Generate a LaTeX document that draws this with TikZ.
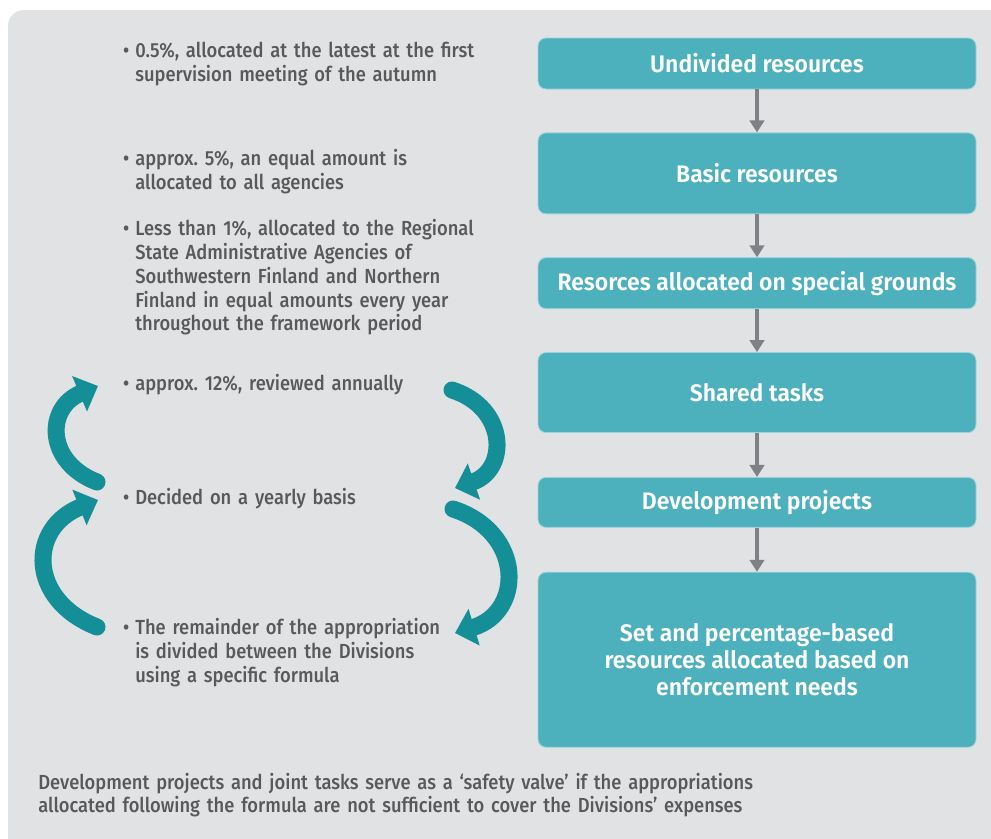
\documentclass[tikz,border=0pt]{standalone}
\usepackage{fontspec}
\setmainfont{Fira Sans Medium}[FakeStretch=0.9]
\newfontfamily\boxfont{Fira Sans SemiBold}[FakeStretch=0.96]
\usetikzlibrary{arrows.meta,positioning}

\definecolor{panelgray}{RGB}{225,226,228}
\definecolor{boxteal}{RGB}{76,176,189}
\definecolor{loopteal}{RGB}{20,143,152}
\definecolor{flowgray}{RGB}{128,129,133}
\definecolor{textgray}{RGB}{88,89,91}

\begin{document}
\frenchspacing
\begin{tikzpicture}[
  resbox/.style={draw=boxteal!55!white,line width=0.6pt,fill=boxteal,rounded corners=0.2cm,
    text=white,font=\boxfont\fontsize{17}{19.2}\selectfont,align=center,minimum width=10.95cm,inner sep=2pt},
  listitem/.style={anchor=base west,text width=11cm,align=left,inner sep=0pt,text=textgray,
    font=\fontsize{14.5}{17.07}\selectfont},
  flow/.style={-{Triangle[width=0.36cm,length=0.3cm]},line width=0.1cm,flowgray},
  swirl/.style={-{Triangle[width=0.93cm,length=0.5cm]},line width=0.425cm,loopteal,line cap=round}]
\useasboundingbox (0,0) rectangle (24.775,-20.95);
\fill[panelgray,rounded corners=0.4cm] (0.2,-0.25) rectangle (25.5,-21.6);

% resource chain on the right
\node[resbox,minimum height=1.275cm] (undiv) at (18.925,-1.5875) {Undivided resources};
\node[resbox,minimum height=2.025cm,below=1.075cm of undiv] (basic) {Basic resources};
\node[resbox,minimum height=1.275cm,below=1.075cm of basic] (special) {Resorces allocated on special grounds};
\node[resbox,minimum height=2.0cm,below=1.075cm of special] (shared) {Shared tasks};
\node[resbox,minimum height=1.25cm,below=1.1cm of shared] (devel) {Development projects};
\node[resbox,minimum height=4.375cm,below=1.1cm of devel] (setres)
 {Set and percentage-based\\ resources allocated based on\\ enforcement needs};
\draw[flow] (undiv)--(basic); \draw[flow] (basic)--(special); \draw[flow] (special)--(shared);
\draw[flow] (shared)--(devel); \draw[flow] (devel)--(setres);

% explanations on the left
\newcommand\bul{\llap{\textbullet\hspace{0.15cm}}}
\node[listitem] (iundiv) at (3.375,-1.433)
 {\bul 0.5\%, allocated at the latest at the first\\ supervision meeting of the autumn};
\node[listitem] (ibasic) at (3.375,-4.142)
 {\bul approx. 5\%, an equal amount is\\ allocated to all agencies};
\node[listitem] (ispecial) at (3.375,-5.875)
 {\bul Less than 1\%, allocated to the Regional\\ State Administrative Agencies of\\
  Southwestern Finland and Northern\\ Finland in equal amounts every year\\ throughout the framework period};
\node[listitem] (ishared) at (3.375,-9.75) {\bul approx. 12\%, reviewed annually};
\node[listitem] (idevel) at (3.375,-12.6) {\bul Decided on a yearly basis};
\node[listitem] (iset) at (3.375,-15.85)
 {\bul The remainder of the appropriation\\ is divided between the Divisions\\ using a specific formula};

% the safety-valve loops
\coordinate (la1) at (2.425,-12.05);  \coordinate (lb1) at (2.45,-9.65);
\coordinate (la2) at (2.425,-15.675); \coordinate (lb2) at (2.45,-12.5);
\coordinate (ra1) at (11.3,-9.75);    \coordinate (rb1) at (11.375,-12.2);
\coordinate (ra2) at (11.325,-12.725); \coordinate (rb2) at (11.375,-15.825);
\draw[swirl] (la1) .. controls (1.14,-11.55) and (1.14,-10.2) .. (lb1);
\draw[swirl] (la2) .. controls (0.7,-15.0) and (0.7,-13.2) .. (lb2);
\draw[swirl] (ra1) .. controls (12.7,-10.2) and (12.7,-11.75) .. (rb1);
\draw[swirl] (ra2) .. controls (13.1,-13.3) and (13.1,-15.3) .. (rb2);

\node[anchor=base west,text width=22cm,align=left,inner sep=0pt,text=textgray,font=\fontsize{14.5}{16.4}\selectfont]
 (valve) at (0.95,-19.725)
 {Development projects and joint tasks serve as a ‘safety valve’ if the appropriations\\
  allocated following the formula are not sufficient to cover the Divisions’ expenses};
\end{tikzpicture}
\end{document}
